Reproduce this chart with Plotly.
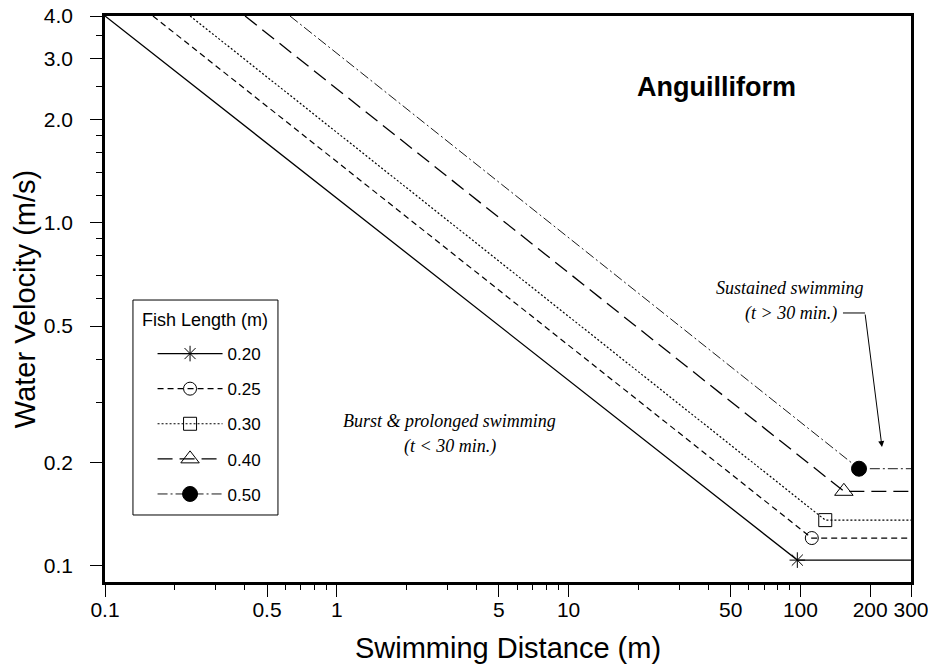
import numpy as np
import plotly.graph_objects as go

# ---- data ----
fish_lengths = ["0.20", "0.25", "0.30", "0.40", "0.50"]
start_dist = [0.1, 0.161, 0.233, 0.402, 0.628]      # m, where each line leaves the 4.0 m/s top
start_vel = [4.0, 4.0, 4.0, 4.0, 4.0]               # m/s
break_dist = [97, 112, 128, 154, 179]               # m, end of burst & prolonged swimming
break_vel = [0.104, 0.1206, 0.136, 0.165, 0.192]    # m/s, sustained swimming speed
end_dist = 300.0

x_tickvals = [0.1, 0.5, 1, 5, 10, 50, 100, 200, 300]
x_ticktext = ["0.1", "0.5", "1", "5", "10", "50", "100", "200", "300"]
x_minor = [0.2, 0.3, 0.4, 0.6, 0.7, 0.8, 0.9, 2, 3, 4, 6, 7, 8, 9,
           20, 30, 40, 60, 70, 80, 90]
y_tickvals = [0.1, 0.2, 0.5, 1.0, 2.0, 3.0, 4.0]
y_ticktext = ["0.1", "0.2", "0.5", "1.0", "2.0", "3.0", "4.0"]
y_minor = [0.3, 0.4, 0.6, 0.7, 0.8, 0.9, 1.2, 1.4, 1.6, 1.8, 2.5, 3.5]

# ---- styles ----
dashes = ["solid", "6px,4px", "2px,2px", "15px,7px", "10px,3px,2px,3px"]
widths = [1.3, 1.2, 1.2, 1.3, 0.9]
symbols = ["asterisk-open", "circle-open", "square-open", "triangle-up-open", "circle"]
msizes = [13, 13, 13, 16, 15]

SANS = "Liberation Sans, Arial, sans-serif"
SERIF = "Liberation Serif, Times New Roman, serif"

fig = go.Figure()
for i, lab in enumerate(fish_lengths):
    fig.add_trace(go.Scatter(
        x=[start_dist[i], break_dist[i], end_dist],
        y=[start_vel[i], break_vel[i], break_vel[i]],
        mode="lines",
        line=dict(color="black", width=widths[i], dash=dashes[i]),
        showlegend=False, legendgroup=lab, hoverinfo="skip",
    ))
    fig.add_trace(go.Scatter(
        x=[break_dist[i]], y=[break_vel[i]],
        mode="lines+markers", name=lab, legendgroup=lab,
        line=dict(color="black", width=widths[i], dash=dashes[i]),
        marker=dict(symbol=symbols[i], size=msizes[i], color="black",
                    line=dict(color="black", width=1)),
    ))

axis_common = dict(
    showline=True, linewidth=2.5, linecolor="black", mirror=True,
    showgrid=False, zeroline=False, ticks="outside", ticklen=12,
    tickwidth=1, tickcolor="black", automargin=False,
    ticklabeloverflow="allow",
    tickfont=dict(family=SANS, size=21, color="black"),
)

fig.update_xaxes(
    type="log", range=[np.log10(0.1), np.log10(300)],
    tickmode="array", tickvals=x_tickvals, ticktext=x_ticktext,
    minor=dict(tickmode="array", tickvals=x_minor, ticks="outside",
               ticklen=5, tickwidth=1, tickcolor="black", showgrid=False),
    title=dict(text="Swimming Distance (m)", font=dict(family=SANS, size=29, color="black"),
               standoff=20),
    ticklabelstandoff=-5,
    **axis_common,
)
fig.update_yaxes(
    type="log", range=[np.log10(0.0898), np.log10(4.0)],
    tickmode="array", tickvals=y_tickvals, ticktext=y_ticktext,
    minor=dict(tickmode="array", tickvals=y_minor, ticks="outside",
               ticklen=6, tickwidth=1, tickcolor="black", showgrid=False),
    title=dict(text="Water Velocity (m/s)", font=dict(family=SANS, size=29, color="black"),
               standoff=0),
    ticklabelstandoff=13,
    **axis_common,
)

ann = dict(xref="paper", yref="paper", showarrow=False, xanchor="center", yanchor="middle")
fig.add_annotation(text="<b>Anguilliform</b>", x=0.759, y=0.8746,
                   font=dict(family=SANS, size=27, color="black"), **ann)
fig.add_annotation(text="<i>Sustained swimming</i>", x=0.85, y=0.519,
                   font=dict(family=SERIF, size=18, color="black"), **ann)
fig.add_annotation(text="<i>(t &gt; 30 min.)</i>", x=0.851, y=0.475,
                   font=dict(family=SERIF, size=18, color="black"), **ann)
fig.add_annotation(text="<i>Burst &amp; prolonged swimming</i>", x=0.428, y=0.2845,
                   font=dict(family=SERIF, size=18, color="black"), **ann)
fig.add_annotation(text="<i>(t &lt; 30 min.)</i>", x=0.428, y=0.240,
                   font=dict(family=SERIF, size=18, color="black"), **ann)
# arrow pointing to the sustained-swimming lines
fig.add_shape(type="line", xref="paper", yref="paper",
              x0=0.9156, x1=0.943, y0=0.4753, y1=0.4753,
              line=dict(color="black", width=1))
fig.add_annotation(text="", xref="paper", yref="paper", x=0.964, y=0.2385,
                   ax=-17, ay=-134, axref="pixel", ayref="pixel",
                   showarrow=True, arrowhead=2, arrowsize=1.2, arrowwidth=1,
                   arrowcolor="black", standoff=0, startstandoff=0)

# legend frame and heading
fig.add_shape(type="rect", xref="paper", yref="paper",
              x0=0.0347, x1=0.2146, y0=0.1184, y1=0.4982,
              line=dict(color="black", width=1), fillcolor="white", layer="below")
fig.add_annotation(text="Fish Length (m)", x=0.124, y=0.4629,
                   font=dict(family=SANS, size=18, color="black"), **ann)

fig.update_layout(
    width=928, height=664, autosize=False,
    margin=dict(l=105, r=17, t=16, b=82),
    paper_bgcolor="white", plot_bgcolor="white",
    showlegend=True,
    legend=dict(
        x=0.059, y=0.4346, xanchor="left", yanchor="top",
        bgcolor="rgba(0,0,0,0)", borderwidth=0,
        font=dict(family=SANS, size=17, color="black"),
        itemwidth=65, tracegroupgap=10, traceorder="grouped",
    ),
)

fig.write_html("out.html", config={"displayModeBar": False},
               post_script="document.body.style.margin='0';")
